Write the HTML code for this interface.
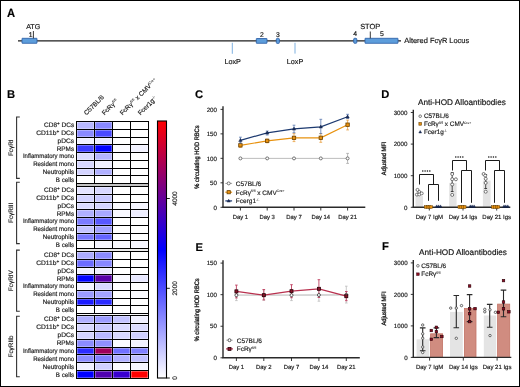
<!DOCTYPE html>
<html><head><meta charset="utf-8"><style>html,body{margin:0;padding:0;background:#fff;width:520px;height:387px;overflow:hidden}svg{display:block;will-change:transform}</style></head><body>
<svg width="520" height="387" viewBox="0 0 520 387" font-family='"Liberation Sans", sans-serif'>
<style>text{stroke:#1a1a1a;stroke-width:0.17px;text-rendering:geometricPrecision}</style>
<rect x="0" y="0" width="520" height="387" fill="#fff"/>
<text x="7.1" y="16.6" font-size="11.9" text-anchor="start" font-weight="bold" fill="#000" textLength="8.1" lengthAdjust="spacingAndGlyphs" >A</text>
<line x1="18" y1="40.9" x2="401" y2="40.9" stroke="#1e1e1e" stroke-width="1.35"/>
<rect x="22" y="38.3" width="15" height="5" rx="0.3" fill="#5d9ddb" stroke="#2d5fa6" stroke-width="0.85"/>
<rect x="256.3" y="38.5" width="10.7" height="4.8" rx="0.3" fill="#5d9ddb" stroke="#2d5fa6" stroke-width="0.85"/>
<rect x="276.3" y="38.4" width="3.1" height="5" rx="0.9" fill="#5d9ddb" stroke="#2d5fa6" stroke-width="0.85"/>
<rect x="353.7" y="38.3" width="3.1" height="5" rx="0.9" fill="#5d9ddb" stroke="#2d5fa6" stroke-width="0.85"/>
<rect x="365" y="38.3" width="33" height="5" rx="0.3" fill="#5d9ddb" stroke="#2d5fa6" stroke-width="0.85"/>
<line x1="33.4" y1="31" x2="33.4" y2="38.3" stroke="#222" stroke-width="0.9"/>
<line x1="370.3" y1="31.5" x2="370.3" y2="38.3" stroke="#222" stroke-width="0.9"/>
<text x="33.2" y="28.9" font-size="7.1" text-anchor="middle" font-weight="normal" fill="#111" >ATG</text>
<text x="30.7" y="36.6" font-size="6.8" text-anchor="middle" font-weight="normal" fill="#111" >1</text>
<text x="261.8" y="36.6" font-size="6.8" text-anchor="middle" font-weight="normal" fill="#111" >2</text>
<text x="277.8" y="36.6" font-size="6.8" text-anchor="middle" font-weight="normal" fill="#111" >3</text>
<text x="355.2" y="36.4" font-size="6.8" text-anchor="middle" font-weight="normal" fill="#111" >4</text>
<text x="382" y="36.4" font-size="6.8" text-anchor="middle" font-weight="normal" fill="#111" >5</text>
<text x="370.2" y="29.4" font-size="7.4" text-anchor="middle" font-weight="normal" fill="#111" >STOP</text>
<text x="404.3" y="43.1" font-size="7.45" text-anchor="start" font-weight="normal" fill="#111" >Altered Fc&#947;R Locus</text>
<line x1="232.3" y1="42.8" x2="232.3" y2="53.8" stroke="#6fa8dc" stroke-width="0.9"/>
<line x1="295" y1="42.8" x2="295" y2="53.6" stroke="#6fa8dc" stroke-width="0.9"/>
<text x="232.7" y="64.1" font-size="7.2" text-anchor="middle" font-weight="normal" fill="#111" >LoxP</text>
<text x="295" y="64.1" font-size="7.2" text-anchor="middle" font-weight="normal" fill="#111" >LoxP</text>
<text x="7" y="97.9" font-size="11.2" text-anchor="start" font-weight="bold" fill="#000" >B</text>
<rect x="77.3" y="122.30" width="16.4" height="6.40" fill="#b8b8ff"/>
<rect x="95.3" y="122.30" width="16.4" height="6.40" fill="#8888ff"/>
<text x="74.2" y="127.38" font-size="6.5" text-anchor="end" font-weight="normal" fill="#222" textLength="30.2" lengthAdjust="spacingAndGlyphs" >CD8<tspan font-size="4.6" dy="-2.2">+</tspan><tspan dy="2.2"> DCs</tspan></text>
<rect x="77.3" y="130.30" width="16.4" height="6.40" fill="#8a8aff"/>
<rect x="95.3" y="130.30" width="16.4" height="6.40" fill="#4a4aff"/>
<text x="74.2" y="135.12" font-size="6.5" text-anchor="end" font-weight="normal" fill="#222" textLength="38.0" lengthAdjust="spacingAndGlyphs" >CD11b<tspan font-size="4.6" dy="-2.2">+</tspan><tspan dy="2.2"> DCs</tspan></text>
<rect x="77.3" y="138.30" width="16.4" height="5.40" fill="#f0f0ff"/>
<rect x="95.3" y="138.30" width="16.4" height="5.40" fill="#ececff"/>
<text x="74.2" y="142.88" font-size="6.5" text-anchor="end" font-weight="normal" fill="#222" textLength="16.6" lengthAdjust="spacingAndGlyphs" >pDCs</text>
<rect x="77.3" y="145.30" width="16.4" height="6.40" fill="#3a3aff"/>
<rect x="95.3" y="145.30" width="16.4" height="6.40" fill="#0000ff"/>
<rect x="113.3" y="145.30" width="16.4" height="6.40" fill="#fafaff"/>
<rect x="131.3" y="145.30" width="16.4" height="6.40" fill="#f2f2ff"/>
<text x="74.2" y="150.62" font-size="6.5" text-anchor="end" font-weight="normal" fill="#222" textLength="17.5" lengthAdjust="spacingAndGlyphs" >RPMs</text>
<rect x="77.3" y="153.30" width="16.4" height="6.40" fill="#dcdcff"/>
<rect x="95.3" y="153.30" width="16.4" height="6.40" fill="#b4b4ff"/>
<text x="74.2" y="158.38" font-size="6.5" text-anchor="end" font-weight="normal" fill="#222" textLength="51.3" lengthAdjust="spacingAndGlyphs" >Inflammatory mono</text>
<rect x="77.3" y="161.30" width="16.4" height="6.40" fill="#d8d8ff"/>
<rect x="95.3" y="161.30" width="16.4" height="6.40" fill="#f0f0ff"/>
<text x="74.2" y="166.12" font-size="6.5" text-anchor="end" font-weight="normal" fill="#222" textLength="41.0" lengthAdjust="spacingAndGlyphs" >Resident mono</text>
<rect x="77.3" y="169.30" width="16.4" height="5.40" fill="#d4d4ff"/>
<rect x="95.3" y="169.30" width="16.4" height="5.40" fill="#b0b0ff"/>
<text x="74.2" y="173.88" font-size="6.5" text-anchor="end" font-weight="normal" fill="#222" textLength="31.4" lengthAdjust="spacingAndGlyphs" >Neutrophils</text>
<text x="74.2" y="181.62" font-size="6.5" text-anchor="end" font-weight="normal" fill="#222" textLength="18.4" lengthAdjust="spacingAndGlyphs" >B cells</text>
<line x1="76" y1="121.5" x2="149" y2="121.5" stroke="#000" stroke-width="1"/>
<line x1="76" y1="129.5" x2="149" y2="129.5" stroke="#000" stroke-width="1"/>
<line x1="76" y1="137.5" x2="149" y2="137.5" stroke="#000" stroke-width="1"/>
<line x1="76" y1="144.5" x2="149" y2="144.5" stroke="#000" stroke-width="1"/>
<line x1="76" y1="152.5" x2="149" y2="152.5" stroke="#000" stroke-width="1"/>
<line x1="76" y1="160.5" x2="149" y2="160.5" stroke="#000" stroke-width="1"/>
<line x1="76" y1="168.5" x2="149" y2="168.5" stroke="#000" stroke-width="1"/>
<line x1="76" y1="175.5" x2="149" y2="175.5" stroke="#000" stroke-width="1"/>
<line x1="76" y1="183.5" x2="149" y2="183.5" stroke="#000" stroke-width="1"/>
<line x1="76.5" y1="121.0" x2="76.5" y2="184.0" stroke="#000" stroke-width="1"/>
<line x1="94.5" y1="121.0" x2="94.5" y2="184.0" stroke="#000" stroke-width="1"/>
<line x1="112.5" y1="121.0" x2="112.5" y2="184.0" stroke="#000" stroke-width="1"/>
<line x1="130.5" y1="121.0" x2="130.5" y2="184.0" stroke="#000" stroke-width="1"/>
<line x1="148.5" y1="121.0" x2="148.5" y2="184.0" stroke="#000" stroke-width="1"/>
<rect x="77" y="184.0" width="71" height="2.0" fill="#c4c4c4"/>
<line x1="76.5" y1="183.5" x2="76.5" y2="186.5" stroke="#000" stroke-width="1"/>
<line x1="148.5" y1="183.5" x2="148.5" y2="186.5" stroke="#000" stroke-width="1"/>
<rect x="77.3" y="187.30" width="16.4" height="6.40" fill="#e4e4ff"/>
<rect x="95.3" y="187.30" width="16.4" height="6.40" fill="#d8d8ff"/>
<text x="74.2" y="192.38" font-size="6.5" text-anchor="end" font-weight="normal" fill="#222" textLength="30.2" lengthAdjust="spacingAndGlyphs" >CD8<tspan font-size="4.6" dy="-2.2">+</tspan><tspan dy="2.2"> DCs</tspan></text>
<rect x="77.3" y="195.30" width="16.4" height="6.40" fill="#d4d4ff"/>
<rect x="95.3" y="195.30" width="16.4" height="6.40" fill="#c8c8ff"/>
<text x="74.2" y="200.12" font-size="6.5" text-anchor="end" font-weight="normal" fill="#222" textLength="38.0" lengthAdjust="spacingAndGlyphs" >CD11b<tspan font-size="4.6" dy="-2.2">+</tspan><tspan dy="2.2"> DCs</tspan></text>
<rect x="77.3" y="203.30" width="16.4" height="5.40" fill="#dcdcff"/>
<rect x="95.3" y="203.30" width="16.4" height="5.40" fill="#d4d4ff"/>
<rect x="113.3" y="203.30" width="16.4" height="5.40" fill="#fafaff"/>
<rect x="131.3" y="203.30" width="16.4" height="5.40" fill="#f6f6ff"/>
<text x="74.2" y="207.88" font-size="6.5" text-anchor="end" font-weight="normal" fill="#222" textLength="16.6" lengthAdjust="spacingAndGlyphs" >pDCs</text>
<rect x="77.3" y="210.30" width="16.4" height="6.40" fill="#b0b0ff"/>
<rect x="95.3" y="210.30" width="16.4" height="6.40" fill="#a8a8ff"/>
<rect x="113.3" y="210.30" width="16.4" height="6.40" fill="#f8f8ff"/>
<rect x="131.3" y="210.30" width="16.4" height="6.40" fill="#eeeeff"/>
<text x="74.2" y="215.62" font-size="6.5" text-anchor="end" font-weight="normal" fill="#222" textLength="17.5" lengthAdjust="spacingAndGlyphs" >RPMs</text>
<rect x="77.3" y="218.30" width="16.4" height="6.40" fill="#7c7cff"/>
<rect x="95.3" y="218.30" width="16.4" height="6.40" fill="#5858ff"/>
<text x="74.2" y="223.38" font-size="6.5" text-anchor="end" font-weight="normal" fill="#222" textLength="51.3" lengthAdjust="spacingAndGlyphs" >Inflammatory mono</text>
<rect x="77.3" y="226.30" width="16.4" height="6.40" fill="#c4c4ff"/>
<rect x="95.3" y="226.30" width="16.4" height="6.40" fill="#a0a0ff"/>
<text x="74.2" y="231.12" font-size="6.5" text-anchor="end" font-weight="normal" fill="#222" textLength="41.0" lengthAdjust="spacingAndGlyphs" >Resident mono</text>
<rect x="77.3" y="234.30" width="16.4" height="5.40" fill="#7878ff"/>
<rect x="95.3" y="234.30" width="16.4" height="5.40" fill="#6464ff"/>
<text x="74.2" y="238.88" font-size="6.5" text-anchor="end" font-weight="normal" fill="#222" textLength="31.4" lengthAdjust="spacingAndGlyphs" >Neutrophils</text>
<rect x="95.3" y="241.30" width="16.4" height="6.40" fill="#f6f6ff"/>
<rect x="113.3" y="241.30" width="16.4" height="6.40" fill="#fafaff"/>
<rect x="131.3" y="241.30" width="16.4" height="6.40" fill="#f6f6ff"/>
<text x="74.2" y="246.62" font-size="6.5" text-anchor="end" font-weight="normal" fill="#222" textLength="18.4" lengthAdjust="spacingAndGlyphs" >B cells</text>
<line x1="76" y1="186.5" x2="149" y2="186.5" stroke="#000" stroke-width="1"/>
<line x1="76" y1="194.5" x2="149" y2="194.5" stroke="#000" stroke-width="1"/>
<line x1="76" y1="202.5" x2="149" y2="202.5" stroke="#000" stroke-width="1"/>
<line x1="76" y1="209.5" x2="149" y2="209.5" stroke="#000" stroke-width="1"/>
<line x1="76" y1="217.5" x2="149" y2="217.5" stroke="#000" stroke-width="1"/>
<line x1="76" y1="225.5" x2="149" y2="225.5" stroke="#000" stroke-width="1"/>
<line x1="76" y1="233.5" x2="149" y2="233.5" stroke="#000" stroke-width="1"/>
<line x1="76" y1="240.5" x2="149" y2="240.5" stroke="#000" stroke-width="1"/>
<line x1="76" y1="248.5" x2="149" y2="248.5" stroke="#000" stroke-width="1"/>
<line x1="76.5" y1="186.0" x2="76.5" y2="249.0" stroke="#000" stroke-width="1"/>
<line x1="94.5" y1="186.0" x2="94.5" y2="249.0" stroke="#000" stroke-width="1"/>
<line x1="112.5" y1="186.0" x2="112.5" y2="249.0" stroke="#000" stroke-width="1"/>
<line x1="130.5" y1="186.0" x2="130.5" y2="249.0" stroke="#000" stroke-width="1"/>
<line x1="148.5" y1="186.0" x2="148.5" y2="249.0" stroke="#000" stroke-width="1"/>
<rect x="77" y="249.0" width="71" height="2.0" fill="#ececec"/>
<line x1="76.5" y1="248.5" x2="76.5" y2="251.5" stroke="#000" stroke-width="1"/>
<line x1="148.5" y1="248.5" x2="148.5" y2="251.5" stroke="#000" stroke-width="1"/>
<rect x="77.3" y="252.30" width="16.4" height="6.40" fill="#acacff"/>
<rect x="95.3" y="252.30" width="16.4" height="6.40" fill="#8c8cff"/>
<text x="74.2" y="257.38" font-size="6.5" text-anchor="end" font-weight="normal" fill="#222" textLength="30.2" lengthAdjust="spacingAndGlyphs" >CD8<tspan font-size="4.6" dy="-2.2">+</tspan><tspan dy="2.2"> DCs</tspan></text>
<rect x="77.3" y="260.30" width="16.4" height="6.40" fill="#6c6cff"/>
<rect x="95.3" y="260.30" width="16.4" height="6.40" fill="#8888ff"/>
<text x="74.2" y="265.12" font-size="6.5" text-anchor="end" font-weight="normal" fill="#222" textLength="38.0" lengthAdjust="spacingAndGlyphs" >CD11b<tspan font-size="4.6" dy="-2.2">+</tspan><tspan dy="2.2"> DCs</tspan></text>
<rect x="77.3" y="268.30" width="16.4" height="5.40" fill="#f2f2ff"/>
<rect x="95.3" y="268.30" width="16.4" height="5.40" fill="#eeeeff"/>
<text x="74.2" y="272.88" font-size="6.5" text-anchor="end" font-weight="normal" fill="#222" textLength="16.6" lengthAdjust="spacingAndGlyphs" >pDCs</text>
<rect x="77.3" y="275.30" width="16.4" height="6.40" fill="#0404ff"/>
<rect x="95.3" y="275.30" width="16.4" height="6.40" fill="#5800a8"/>
<rect x="113.3" y="275.30" width="16.4" height="6.40" fill="#f8f8ff"/>
<rect x="131.3" y="275.30" width="16.4" height="6.40" fill="#e8e8ff"/>
<text x="74.2" y="280.62" font-size="6.5" text-anchor="end" font-weight="normal" fill="#222" textLength="17.5" lengthAdjust="spacingAndGlyphs" >RPMs</text>
<rect x="77.3" y="283.30" width="16.4" height="6.40" fill="#f4f4ff"/>
<rect x="95.3" y="283.30" width="16.4" height="6.40" fill="#d8d8ff"/>
<text x="74.2" y="288.38" font-size="6.5" text-anchor="end" font-weight="normal" fill="#222" textLength="51.3" lengthAdjust="spacingAndGlyphs" >Inflammatory mono</text>
<rect x="77.3" y="291.30" width="16.4" height="6.40" fill="#9c9cff"/>
<rect x="95.3" y="291.30" width="16.4" height="6.40" fill="#a4a4ff"/>
<rect x="131.3" y="291.30" width="16.4" height="6.40" fill="#fafaff"/>
<text x="74.2" y="296.12" font-size="6.5" text-anchor="end" font-weight="normal" fill="#222" textLength="41.0" lengthAdjust="spacingAndGlyphs" >Resident mono</text>
<rect x="77.3" y="299.30" width="16.4" height="5.40" fill="#1c1cff"/>
<rect x="95.3" y="299.30" width="16.4" height="5.40" fill="#2c2cff"/>
<text x="74.2" y="303.88" font-size="6.5" text-anchor="end" font-weight="normal" fill="#222" textLength="31.4" lengthAdjust="spacingAndGlyphs" >Neutrophils</text>
<text x="74.2" y="311.62" font-size="6.5" text-anchor="end" font-weight="normal" fill="#222" textLength="18.4" lengthAdjust="spacingAndGlyphs" >B cells</text>
<line x1="76" y1="251.5" x2="149" y2="251.5" stroke="#000" stroke-width="1"/>
<line x1="76" y1="259.5" x2="149" y2="259.5" stroke="#000" stroke-width="1"/>
<line x1="76" y1="267.5" x2="149" y2="267.5" stroke="#000" stroke-width="1"/>
<line x1="76" y1="274.5" x2="149" y2="274.5" stroke="#000" stroke-width="1"/>
<line x1="76" y1="282.5" x2="149" y2="282.5" stroke="#000" stroke-width="1"/>
<line x1="76" y1="290.5" x2="149" y2="290.5" stroke="#000" stroke-width="1"/>
<line x1="76" y1="298.5" x2="149" y2="298.5" stroke="#000" stroke-width="1"/>
<line x1="76" y1="305.5" x2="149" y2="305.5" stroke="#000" stroke-width="1"/>
<line x1="76" y1="313.5" x2="149" y2="313.5" stroke="#000" stroke-width="1"/>
<line x1="76.5" y1="251.0" x2="76.5" y2="314.0" stroke="#000" stroke-width="1"/>
<line x1="94.5" y1="251.0" x2="94.5" y2="314.0" stroke="#000" stroke-width="1"/>
<line x1="112.5" y1="251.0" x2="112.5" y2="314.0" stroke="#000" stroke-width="1"/>
<line x1="130.5" y1="251.0" x2="130.5" y2="314.0" stroke="#000" stroke-width="1"/>
<line x1="148.5" y1="251.0" x2="148.5" y2="314.0" stroke="#000" stroke-width="1"/>
<rect x="77" y="314.0" width="71" height="1.0" fill="#fafafa"/>
<line x1="76.5" y1="313.5" x2="76.5" y2="315.5" stroke="#000" stroke-width="1"/>
<line x1="148.5" y1="313.5" x2="148.5" y2="315.5" stroke="#000" stroke-width="1"/>
<rect x="77.3" y="316.30" width="16.4" height="6.40" fill="#b0b0ff"/>
<rect x="95.3" y="316.30" width="16.4" height="6.40" fill="#9c9cff"/>
<rect x="113.3" y="316.30" width="16.4" height="6.40" fill="#c4c4ff"/>
<rect x="131.3" y="316.30" width="16.4" height="6.40" fill="#f0f0ff"/>
<text x="74.2" y="321.44" font-size="6.5" text-anchor="end" font-weight="normal" fill="#222" textLength="30.2" lengthAdjust="spacingAndGlyphs" >CD8<tspan font-size="4.6" dy="-2.2">+</tspan><tspan dy="2.2"> DCs</tspan></text>
<rect x="77.3" y="324.30" width="16.4" height="6.40" fill="#d8d8ff"/>
<rect x="95.3" y="324.30" width="16.4" height="6.40" fill="#c8c8ff"/>
<rect x="113.3" y="324.30" width="16.4" height="6.40" fill="#dcdcff"/>
<rect x="131.3" y="324.30" width="16.4" height="6.40" fill="#dcdcff"/>
<text x="74.2" y="329.31" font-size="6.5" text-anchor="end" font-weight="normal" fill="#222" textLength="38.0" lengthAdjust="spacingAndGlyphs" >CD11b<tspan font-size="4.6" dy="-2.2">+</tspan><tspan dy="2.2"> DCs</tspan></text>
<rect x="77.3" y="332.30" width="16.4" height="6.40" fill="#d4d4ff"/>
<rect x="95.3" y="332.30" width="16.4" height="6.40" fill="#b8b8ff"/>
<rect x="113.3" y="332.30" width="16.4" height="6.40" fill="#d8d8ff"/>
<rect x="131.3" y="332.30" width="16.4" height="6.40" fill="#d0d0ff"/>
<text x="74.2" y="337.19" font-size="6.5" text-anchor="end" font-weight="normal" fill="#222" textLength="16.6" lengthAdjust="spacingAndGlyphs" >pDCs</text>
<rect x="77.3" y="340.30" width="16.4" height="6.40" fill="#8c8cff"/>
<rect x="95.3" y="340.30" width="16.4" height="6.40" fill="#9090ff"/>
<rect x="113.3" y="340.30" width="16.4" height="6.40" fill="#fafaff"/>
<rect x="131.3" y="340.30" width="16.4" height="6.40" fill="#f2f2ff"/>
<text x="74.2" y="345.06" font-size="6.5" text-anchor="end" font-weight="normal" fill="#222" textLength="17.5" lengthAdjust="spacingAndGlyphs" >RPMs</text>
<rect x="77.3" y="348.30" width="16.4" height="5.40" fill="#2c2cff"/>
<rect x="95.3" y="348.30" width="16.4" height="5.40" fill="#a0005c"/>
<rect x="113.3" y="348.30" width="16.4" height="5.40" fill="#7070ff"/>
<rect x="131.3" y="348.30" width="16.4" height="5.40" fill="#8080ff"/>
<text x="74.2" y="352.94" font-size="6.5" text-anchor="end" font-weight="normal" fill="#222" textLength="51.3" lengthAdjust="spacingAndGlyphs" >Inflammatory mono</text>
<rect x="77.3" y="355.30" width="16.4" height="6.40" fill="#8c8cff"/>
<rect x="95.3" y="355.30" width="16.4" height="6.40" fill="#8080ff"/>
<rect x="113.3" y="355.30" width="16.4" height="6.40" fill="#b0b0ff"/>
<rect x="131.3" y="355.30" width="16.4" height="6.40" fill="#c0c0ff"/>
<text x="74.2" y="360.81" font-size="6.5" text-anchor="end" font-weight="normal" fill="#222" textLength="41.0" lengthAdjust="spacingAndGlyphs" >Resident mono</text>
<rect x="77.3" y="363.30" width="16.4" height="6.40" fill="#f0f0ff"/>
<rect x="95.3" y="363.30" width="16.4" height="6.40" fill="#d0d0ff"/>
<rect x="113.3" y="363.30" width="16.4" height="6.40" fill="#fcfcff"/>
<rect x="131.3" y="363.30" width="16.4" height="6.40" fill="#f6f6ff"/>
<text x="74.2" y="368.69" font-size="6.5" text-anchor="end" font-weight="normal" fill="#222" textLength="31.4" lengthAdjust="spacingAndGlyphs" >Neutrophils</text>
<rect x="77.3" y="371.30" width="16.4" height="6.40" fill="#0000ff"/>
<rect x="95.3" y="371.30" width="16.4" height="6.40" fill="#5000b0"/>
<rect x="113.3" y="371.30" width="16.4" height="6.40" fill="#3a00d0"/>
<rect x="131.3" y="371.30" width="16.4" height="6.40" fill="#ff0000"/>
<text x="74.2" y="376.56" font-size="6.5" text-anchor="end" font-weight="normal" fill="#222" textLength="18.4" lengthAdjust="spacingAndGlyphs" >B cells</text>
<line x1="76" y1="315.5" x2="149" y2="315.5" stroke="#000" stroke-width="1"/>
<line x1="76" y1="323.5" x2="149" y2="323.5" stroke="#000" stroke-width="1"/>
<line x1="76" y1="331.5" x2="149" y2="331.5" stroke="#000" stroke-width="1"/>
<line x1="76" y1="339.5" x2="149" y2="339.5" stroke="#000" stroke-width="1"/>
<line x1="76" y1="347.5" x2="149" y2="347.5" stroke="#000" stroke-width="1"/>
<line x1="76" y1="354.5" x2="149" y2="354.5" stroke="#000" stroke-width="1"/>
<line x1="76" y1="362.5" x2="149" y2="362.5" stroke="#000" stroke-width="1"/>
<line x1="76" y1="370.5" x2="149" y2="370.5" stroke="#000" stroke-width="1"/>
<line x1="76" y1="378.5" x2="149" y2="378.5" stroke="#000" stroke-width="1"/>
<line x1="76.5" y1="315.0" x2="76.5" y2="379.0" stroke="#000" stroke-width="1"/>
<line x1="94.5" y1="315.0" x2="94.5" y2="379.0" stroke="#000" stroke-width="1"/>
<line x1="112.5" y1="315.0" x2="112.5" y2="379.0" stroke="#000" stroke-width="1"/>
<line x1="130.5" y1="315.0" x2="130.5" y2="379.0" stroke="#000" stroke-width="1"/>
<line x1="148.5" y1="315.0" x2="148.5" y2="379.0" stroke="#000" stroke-width="1"/>
<path d="M19.8 117 H16.6 V178.4 H19.8" fill="none" stroke="#333" stroke-width="1.1"/>
<text transform="translate(12.5 147.7) rotate(-90)" font-size="6.4" text-anchor="middle" fill="#222">Fc&#947;RI</text>
<path d="M19.8 182.2 H16.6 V243.6 H19.8" fill="none" stroke="#333" stroke-width="1.1"/>
<text transform="translate(12.5 212.89999999999998) rotate(-90)" font-size="6.4" text-anchor="middle" fill="#222">Fc&#947;RIII</text>
<path d="M19.8 250.1 H16.6 V311.3 H19.8" fill="none" stroke="#333" stroke-width="1.1"/>
<text transform="translate(12.5 280.7) rotate(-90)" font-size="6.4" text-anchor="middle" fill="#222">Fc&#947;RIV</text>
<path d="M19.8 316.3 H16.6 V376.7 H19.8" fill="none" stroke="#333" stroke-width="1.1"/>
<text transform="translate(12.5 346.5) rotate(-90)" font-size="6.4" text-anchor="middle" fill="#222">Fc&#947;RIIb</text>
<text transform="translate(86.5 115.6) rotate(-45)" font-size="6.5" fill="#222">C57BL/6</text>
<text transform="translate(104.5 115.6) rotate(-45)" font-size="6.5" fill="#222">FcR&#947;<tspan font-size="3.6" dy="-2.4" fill="#333" style="stroke-width:0.05px">fl/fl</tspan></text>
<text transform="translate(122.5 115.6) rotate(-45)" font-size="6.5" fill="#222">FcR&#947;<tspan font-size="3.6" dy="-2.4" fill="#333" style="stroke-width:0.05px">fl/fl</tspan><tspan dy="2.4"> x CMV</tspan><tspan font-size="3.6" dy="-2.4" fill="#333" style="stroke-width:0.05px">Cre+</tspan></text>
<text transform="translate(140.5 115.6) rotate(-45)" font-size="6.5" fill="#222">Fcer1g<tspan font-size="3.6" dy="-2.4" fill="#333" style="stroke-width:0.05px">-/-</tspan></text>
<defs><linearGradient id="cb" x1="0" y1="0" x2="0" y2="1"><stop offset="0" stop-color="#ff0000"/><stop offset="0.5" stop-color="#0000ff"/><stop offset="1" stop-color="#ffffff"/></linearGradient></defs>
<rect x="157.5" y="121" width="9" height="257" fill="url(#cb)" stroke="#000" stroke-width="1.1"/>
<line x1="166.5" y1="378" x2="169.8" y2="378" stroke="#000" stroke-width="0.9"/>
<text transform="translate(177.4 378) rotate(-90)" font-size="6.5" text-anchor="middle" fill="#222">0</text>
<line x1="166.5" y1="288.3" x2="169.8" y2="288.3" stroke="#000" stroke-width="0.9"/>
<text transform="translate(177.4 288.3) rotate(-90)" font-size="6.5" text-anchor="middle" fill="#222">2000</text>
<line x1="166.5" y1="198.5" x2="169.8" y2="198.5" stroke="#000" stroke-width="0.9"/>
<text transform="translate(177.4 198.5) rotate(-90)" font-size="6.5" text-anchor="middle" fill="#222">4000</text>
<text x="195" y="97.7" font-size="11.2" text-anchor="start" font-weight="bold" fill="#000" >C</text>
<line x1="223" y1="106.2" x2="223" y2="207.3" stroke="#2a2a2a" stroke-width="1.4"/>
<line x1="220.5" y1="109.38000000000001" x2="223" y2="109.38000000000001" stroke="#222" stroke-width="0.9"/>
<text x="217" y="111.58" font-size="6.2" text-anchor="end" font-weight="normal" fill="#222" >200</text>
<line x1="220.5" y1="133.86" x2="223" y2="133.86" stroke="#222" stroke-width="0.9"/>
<text x="217" y="136.06" font-size="6.2" text-anchor="end" font-weight="normal" fill="#222" >150</text>
<line x1="220.5" y1="158.34" x2="223" y2="158.34" stroke="#222" stroke-width="0.9"/>
<text x="217" y="160.54" font-size="6.2" text-anchor="end" font-weight="normal" fill="#222" >100</text>
<line x1="220.5" y1="182.82000000000002" x2="223" y2="182.82000000000002" stroke="#222" stroke-width="0.9"/>
<text x="217" y="185.02" font-size="6.2" text-anchor="end" font-weight="normal" fill="#222" >50</text>
<line x1="220.5" y1="207.3" x2="223" y2="207.3" stroke="#222" stroke-width="0.9"/>
<text x="217" y="209.5" font-size="6.2" text-anchor="end" font-weight="normal" fill="#222" >0</text>
<line x1="222.3" y1="207.3" x2="365.3" y2="207.3" stroke="#2a2a2a" stroke-width="1.4"/>
<line x1="240.4" y1="207.3" x2="240.4" y2="210.5" stroke="#222" stroke-width="0.9"/>
<text x="240.4" y="218.6" font-size="5.9" text-anchor="middle" font-weight="normal" fill="#222" >Day 1</text>
<line x1="267.2" y1="207.3" x2="267.2" y2="210.5" stroke="#222" stroke-width="0.9"/>
<text x="267.2" y="218.6" font-size="5.9" text-anchor="middle" font-weight="normal" fill="#222" >Day 3</text>
<line x1="294.0" y1="207.3" x2="294.0" y2="210.5" stroke="#222" stroke-width="0.9"/>
<text x="294.0" y="218.6" font-size="5.9" text-anchor="middle" font-weight="normal" fill="#222" >Day 7</text>
<line x1="320.8" y1="207.3" x2="320.8" y2="210.5" stroke="#222" stroke-width="0.9"/>
<text x="320.8" y="218.6" font-size="5.9" text-anchor="middle" font-weight="normal" fill="#222" >Day 14</text>
<line x1="347.6" y1="207.3" x2="347.6" y2="210.5" stroke="#222" stroke-width="0.9"/>
<text x="347.6" y="218.6" font-size="5.9" text-anchor="middle" font-weight="normal" fill="#222" >Day 21</text>
<text transform="translate(198.7 157.1) rotate(-90)" font-size="6.4" text-anchor="middle" fill="#1a1a1a" textLength="63.4" lengthAdjust="spacingAndGlyphs" style="stroke-width:0.3px;stroke:#111">% circulating HOD RBCs</text>
<polyline points="240.4,158.4 267.2,158.4 294.0,158.4 320.8,158.4 347.6,158.4" fill="none" stroke="#b5b5b5" stroke-width="0.9"/>
<path d="M347.6 153.4 V163.4 M346.20000000000005 153.4 H349.0 M346.20000000000005 163.4 H349.0" stroke="#aaa" stroke-width="0.8" fill="none"/>
<circle cx="240.4" cy="158.4" r="1.5" fill="#fff" stroke="#555" stroke-width="0.8"/>
<circle cx="267.2" cy="158.4" r="1.5" fill="#fff" stroke="#555" stroke-width="0.8"/>
<circle cx="294.0" cy="158.4" r="1.5" fill="#fff" stroke="#555" stroke-width="0.8"/>
<circle cx="320.8" cy="158.4" r="1.5" fill="#fff" stroke="#555" stroke-width="0.8"/>
<circle cx="347.6" cy="158.4" r="1.5" fill="#fff" stroke="#555" stroke-width="0.8"/>
<polyline points="240.4,145.3 267.2,140.9 294.0,137.9 320.8,137.8 347.6,124.7" fill="none" stroke="#e8920f" stroke-width="1.2"/>
<path d="M240.4 143.2 V147.4 M239.0 143.2 H241.8 M239.0 147.4 H241.8" stroke="#e8a040" stroke-width="0.8" fill="none"/>
<path d="M267.2 139 V142.8 M265.8 139 H268.59999999999997 M265.8 142.8 H268.59999999999997" stroke="#e8a040" stroke-width="0.8" fill="none"/>
<path d="M294.0 133.6 V141.6 M292.6 133.6 H295.4 M292.6 141.6 H295.4" stroke="#e8a040" stroke-width="0.8" fill="none"/>
<path d="M320.8 133.6 V142.3 M319.40000000000003 133.6 H322.2 M319.40000000000003 142.3 H322.2" stroke="#e8a040" stroke-width="0.8" fill="none"/>
<path d="M347.6 120.1 V129.9 M346.20000000000005 120.1 H349.0 M346.20000000000005 129.9 H349.0" stroke="#e8a040" stroke-width="0.8" fill="none"/>
<rect x="238.70000000000002" y="143.60000000000002" width="3.4" height="3.4" fill="#e8900e" stroke="#6b4200" stroke-width="0.8"/>
<rect x="265.5" y="139.20000000000002" width="3.4" height="3.4" fill="#e8900e" stroke="#6b4200" stroke-width="0.8"/>
<rect x="292.3" y="136.20000000000002" width="3.4" height="3.4" fill="#e8900e" stroke="#6b4200" stroke-width="0.8"/>
<rect x="319.1" y="136.10000000000002" width="3.4" height="3.4" fill="#e8900e" stroke="#6b4200" stroke-width="0.8"/>
<rect x="345.90000000000003" y="123.0" width="3.4" height="3.4" fill="#e8900e" stroke="#6b4200" stroke-width="0.8"/>
<polyline points="240.4,140.3 267.2,132.9 294.0,128.9 320.8,126.8 347.6,116.8" fill="none" stroke="#1d3a70" stroke-width="1.2"/>
<path d="M240.4 137.2 V143.0 M239.0 137.2 H241.8 M239.0 143.0 H241.8" stroke="#5a78b0" stroke-width="0.8" fill="none"/>
<path d="M267.2 131.0 V135.0 M265.8 131.0 H268.59999999999997 M265.8 135.0 H268.59999999999997" stroke="#5a78b0" stroke-width="0.8" fill="none"/>
<path d="M294.0 125.2 V132.7 M292.6 125.2 H295.4 M292.6 132.7 H295.4" stroke="#5a78b0" stroke-width="0.8" fill="none"/>
<path d="M320.8 119.3 V133.6 M319.40000000000003 119.3 H322.2 M319.40000000000003 133.6 H322.2" stroke="#5a78b0" stroke-width="0.8" fill="none"/>
<path d="M347.6 114.3 V118.5 M346.20000000000005 114.3 H349.0 M346.20000000000005 118.5 H349.0" stroke="#5a78b0" stroke-width="0.8" fill="none"/>
<path d="M240.4 138.464 L242.1 141.524 L238.70000000000002 141.524 Z" fill="#1b2f5e" stroke="#0d1a3a" stroke-width="0.4"/>
<path d="M267.2 131.064 L268.9 134.124 L265.5 134.124 Z" fill="#1b2f5e" stroke="#0d1a3a" stroke-width="0.4"/>
<path d="M294.0 127.06400000000001 L295.7 130.124 L292.3 130.124 Z" fill="#1b2f5e" stroke="#0d1a3a" stroke-width="0.4"/>
<path d="M320.8 124.964 L322.5 128.024 L319.1 128.024 Z" fill="#1b2f5e" stroke="#0d1a3a" stroke-width="0.4"/>
<path d="M347.6 114.964 L349.3 118.024 L345.90000000000003 118.024 Z" fill="#1b2f5e" stroke="#0d1a3a" stroke-width="0.4"/>
<line x1="225.3" y1="183.4" x2="232.1" y2="183.4" stroke="#999" stroke-width="0.9"/>
<circle cx="228.7" cy="183.4" r="1.5" fill="#fff" stroke="#555" stroke-width="0.8"/>
<line x1="225.3" y1="192.2" x2="232.1" y2="192.2" stroke="#e8920f" stroke-width="1.2"/>
<rect x="227.1" y="190.6" width="3.2" height="3.2" fill="#e8900e" stroke="#6b4200" stroke-width="0.8"/>
<line x1="225.3" y1="200.9" x2="232.1" y2="200.9" stroke="#1d3a70" stroke-width="1.2"/>
<path d="M228.7 199.172 L230.29999999999998 202.052 L227.1 202.052 Z" fill="#1b2f5e" stroke="#0d1a3a" stroke-width="0.4"/>
<text x="235.8" y="185.7" font-size="6.5" text-anchor="start" font-weight="normal" fill="#222" >C57BL/6</text>
<text x="235.8" y="194.5" font-size="6.5" text-anchor="start" font-weight="normal" fill="#222" >FcR&#947;<tspan font-size="3.5" dy="-2.4" fill="#333" style="stroke-width:0.05px">fl/fl</tspan><tspan dy="2.4"> x CMV</tspan><tspan font-size="3.5" dy="-2.4" fill="#333" style="stroke-width:0.05px">Cre+</tspan></text>
<text x="235.8" y="203.2" font-size="6.5" text-anchor="start" font-weight="normal" fill="#222" >Fcerg1<tspan font-size="3.5" dy="-2.4" fill="#333" style="stroke-width:0.05px">-/-</tspan></text>
<text x="381.2" y="97.7" font-size="11.2" text-anchor="start" font-weight="bold" fill="#000" >D</text>
<text x="418" y="104.5" font-size="8.2" text-anchor="start" font-weight="normal" fill="#111" >Anti-HOD Alloantibodies</text>
<line x1="413.3" y1="109.8" x2="413.3" y2="207.3" stroke="#2a2a2a" stroke-width="1.4"/>
<line x1="410.8" y1="112.5" x2="413.3" y2="112.5" stroke="#222" stroke-width="0.9"/>
<text x="407.4" y="114.7" font-size="6.2" text-anchor="end" font-weight="normal" fill="#222" >3000</text>
<line x1="410.8" y1="144.10000000000002" x2="413.3" y2="144.10000000000002" stroke="#222" stroke-width="0.9"/>
<text x="407.4" y="146.3" font-size="6.2" text-anchor="end" font-weight="normal" fill="#222" >2000</text>
<line x1="410.8" y1="175.70000000000002" x2="413.3" y2="175.70000000000002" stroke="#222" stroke-width="0.9"/>
<text x="407.4" y="177.9" font-size="6.2" text-anchor="end" font-weight="normal" fill="#222" >1000</text>
<line x1="410.8" y1="207.3" x2="413.3" y2="207.3" stroke="#222" stroke-width="0.9"/>
<text x="407.4" y="209.5" font-size="6.2" text-anchor="end" font-weight="normal" fill="#222" >0</text>
<text transform="translate(385.6 158.4) rotate(-90)" font-size="6.3" text-anchor="middle" fill="#1a1a1a" textLength="33.5" lengthAdjust="spacingAndGlyphs" style="stroke-width:0.3px;stroke:#111">Adjusted MFI</text>
<rect x="415.5" y="196.1" width="7.5" height="11.5" fill="#e3e3e3"/>
<rect x="449.2" y="182.9" width="7.4" height="24.7" fill="#e3e3e3"/>
<rect x="482.9" y="180.5" width="7.7" height="27.1" fill="#e3e3e3"/>
<line x1="412.6" y1="207.3" x2="510.3" y2="207.3" stroke="#2a2a2a" stroke-width="1.4"/>
<line x1="429.3" y1="207.3" x2="429.3" y2="210.5" stroke="#222" stroke-width="0.9"/>
<text x="429.3" y="219.0" font-size="6.0" text-anchor="middle" font-weight="normal" fill="#222" >Day 7 IgM</text>
<line x1="463.0" y1="207.3" x2="463.0" y2="210.5" stroke="#222" stroke-width="0.9"/>
<text x="463.0" y="219.0" font-size="6.0" text-anchor="middle" font-weight="normal" fill="#222" >Day 14 Igs</text>
<line x1="496.7" y1="207.3" x2="496.7" y2="210.5" stroke="#222" stroke-width="0.9"/>
<text x="496.7" y="219.0" font-size="6.0" text-anchor="middle" font-weight="normal" fill="#222" >Day 21 Igs</text>
<circle cx="417.5" cy="189.9" r="1.5" fill="#fff" stroke="#444" stroke-width="0.7"/>
<circle cx="419.3" cy="192.0" r="1.5" fill="#fff" stroke="#444" stroke-width="0.7"/>
<circle cx="416.9" cy="194.6" r="1.5" fill="#fff" stroke="#444" stroke-width="0.7"/>
<circle cx="419.3" cy="194.4" r="1.5" fill="#fff" stroke="#444" stroke-width="0.7"/>
<circle cx="421.7" cy="193.4" r="1.5" fill="#fff" stroke="#444" stroke-width="0.7"/>
<path d="M452.2 172.5 V191.5 M450.8 172.5 H453.59999999999997 M450.8 191.5 H453.59999999999997" stroke="#222" stroke-width="0.8" fill="none"/>
<circle cx="452.2" cy="174" r="1.5" fill="#fff" stroke="#444" stroke-width="0.7"/>
<circle cx="452.2" cy="179.2" r="1.5" fill="#fff" stroke="#444" stroke-width="0.7"/>
<circle cx="455.9" cy="179.3" r="1.5" fill="#fff" stroke="#444" stroke-width="0.7"/>
<circle cx="452.2" cy="184.5" r="1.5" fill="#fff" stroke="#444" stroke-width="0.7"/>
<circle cx="452.2" cy="194.9" r="1.5" fill="#fff" stroke="#444" stroke-width="0.7"/>
<path d="M485.7 174.5 V188.5 M484.3 174.5 H487.09999999999997 M484.3 188.5 H487.09999999999997" stroke="#222" stroke-width="0.8" fill="none"/>
<circle cx="483.6" cy="174" r="1.5" fill="#fff" stroke="#444" stroke-width="0.7"/>
<circle cx="485.2" cy="175.6" r="1.5" fill="#fff" stroke="#444" stroke-width="0.7"/>
<circle cx="485.7" cy="178.8" r="1.5" fill="#fff" stroke="#444" stroke-width="0.7"/>
<circle cx="485.7" cy="182.9" r="1.5" fill="#fff" stroke="#444" stroke-width="0.7"/>
<circle cx="485.7" cy="191.7" r="1.5" fill="#fff" stroke="#444" stroke-width="0.7"/>
<rect x="424.4" y="205.7" width="2.6" height="2.6" fill="#e8900e" stroke="#6b4200" stroke-width="0.5"/>
<rect x="426.2" y="205.7" width="2.6" height="2.6" fill="#e8900e" stroke="#6b4200" stroke-width="0.5"/>
<rect x="428.0" y="205.7" width="2.6" height="2.6" fill="#e8900e" stroke="#6b4200" stroke-width="0.5"/>
<rect x="429.79999999999995" y="205.7" width="2.6" height="2.6" fill="#e8900e" stroke="#6b4200" stroke-width="0.5"/>
<path d="M436.7 204.888 L438.09999999999997 207.40800000000002 L435.3 207.40800000000002 Z" fill="#1b2f5e" stroke="#0d1a3a" stroke-width="0.4"/>
<path d="M438.5 204.888 L439.9 207.40800000000002 L437.1 207.40800000000002 Z" fill="#1b2f5e" stroke="#0d1a3a" stroke-width="0.4"/>
<path d="M440.5 204.888 L441.9 207.40800000000002 L439.1 207.40800000000002 Z" fill="#1b2f5e" stroke="#0d1a3a" stroke-width="0.4"/>
<rect x="458.0" y="205.7" width="2.6" height="2.6" fill="#e8900e" stroke="#6b4200" stroke-width="0.5"/>
<rect x="459.8" y="205.7" width="2.6" height="2.6" fill="#e8900e" stroke="#6b4200" stroke-width="0.5"/>
<rect x="461.6" y="205.7" width="2.6" height="2.6" fill="#e8900e" stroke="#6b4200" stroke-width="0.5"/>
<rect x="463.4" y="205.7" width="2.6" height="2.6" fill="#e8900e" stroke="#6b4200" stroke-width="0.5"/>
<path d="M470.3 204.888 L471.7 207.40800000000002 L468.90000000000003 207.40800000000002 Z" fill="#1b2f5e" stroke="#0d1a3a" stroke-width="0.4"/>
<path d="M472.1 204.888 L473.5 207.40800000000002 L470.70000000000005 207.40800000000002 Z" fill="#1b2f5e" stroke="#0d1a3a" stroke-width="0.4"/>
<path d="M474.1 204.888 L475.5 207.40800000000002 L472.70000000000005 207.40800000000002 Z" fill="#1b2f5e" stroke="#0d1a3a" stroke-width="0.4"/>
<rect x="491.7" y="205.7" width="2.6" height="2.6" fill="#e8900e" stroke="#6b4200" stroke-width="0.5"/>
<rect x="493.5" y="205.7" width="2.6" height="2.6" fill="#e8900e" stroke="#6b4200" stroke-width="0.5"/>
<rect x="495.3" y="205.7" width="2.6" height="2.6" fill="#e8900e" stroke="#6b4200" stroke-width="0.5"/>
<rect x="497.09999999999997" y="205.7" width="2.6" height="2.6" fill="#e8900e" stroke="#6b4200" stroke-width="0.5"/>
<path d="M504.0 204.888 L505.4 207.40800000000002 L502.6 207.40800000000002 Z" fill="#1b2f5e" stroke="#0d1a3a" stroke-width="0.4"/>
<path d="M505.8 204.888 L507.2 207.40800000000002 L504.40000000000003 207.40800000000002 Z" fill="#1b2f5e" stroke="#0d1a3a" stroke-width="0.4"/>
<path d="M507.8 204.888 L509.2 207.40800000000002 L506.40000000000003 207.40800000000002 Z" fill="#1b2f5e" stroke="#0d1a3a" stroke-width="0.4"/>
<path d="M419.5 184.5 V174.5 H433.5 V184.5" fill="none" stroke="#1a1a1a" stroke-width="1"/>
<path d="M428.5 200.8 V184.5 H438.5 V200.8" fill="none" stroke="#1a1a1a" stroke-width="1"/>
<rect x="422.10" y="170.1" width="1.3" height="1.8" fill="#555"/>
<rect x="424.45" y="170.1" width="1.3" height="1.8" fill="#555"/>
<rect x="426.80" y="170.1" width="1.3" height="1.8" fill="#555"/>
<rect x="429.15" y="170.1" width="1.3" height="1.8" fill="#555"/>
<path d="M452.5 170.5 V160.5 H466.5 V170.5" fill="none" stroke="#1a1a1a" stroke-width="1"/>
<path d="M461.5 202.8 V170.5 H471.5 V202.8" fill="none" stroke="#1a1a1a" stroke-width="1"/>
<rect x="455.10" y="156.1" width="1.3" height="1.8" fill="#555"/>
<rect x="457.45" y="156.1" width="1.3" height="1.8" fill="#555"/>
<rect x="459.80" y="156.1" width="1.3" height="1.8" fill="#555"/>
<rect x="462.15" y="156.1" width="1.3" height="1.8" fill="#555"/>
<path d="M485.5 170.5 V160.5 H499.5 V170.5" fill="none" stroke="#1a1a1a" stroke-width="1"/>
<path d="M494.5 202.8 V170.5 H504.5 V202.8" fill="none" stroke="#1a1a1a" stroke-width="1"/>
<rect x="488.10" y="156.1" width="1.3" height="1.8" fill="#555"/>
<rect x="490.45" y="156.1" width="1.3" height="1.8" fill="#555"/>
<rect x="492.80" y="156.1" width="1.3" height="1.8" fill="#555"/>
<rect x="495.15" y="156.1" width="1.3" height="1.8" fill="#555"/>
<circle cx="420.2" cy="116.2" r="1.3" fill="#fff" stroke="#444" stroke-width="0.7"/>
<rect x="418.9" y="122.60000000000001" width="2.6" height="2.6" fill="#e8900e" stroke="#6b4200" stroke-width="0.6"/>
<path d="M420.2 130.488 L421.59999999999997 133.008 L418.8 133.008 Z" fill="#1b2f5e" stroke="#0d1a3a" stroke-width="0.4"/>
<text x="423.9" y="118.3" font-size="6.4" text-anchor="start" font-weight="normal" fill="#222" >C57BL/6</text>
<text x="423.9" y="126.1" font-size="6.4" text-anchor="start" font-weight="normal" fill="#222" >FcR&#947;<tspan font-size="3.3" dy="-2.4" fill="#333" style="stroke-width:0.05px">fl/fl</tspan><tspan dy="2.4"> x CMV</tspan><tspan font-size="3.3" dy="-2.4" fill="#333" style="stroke-width:0.05px">Cre+</tspan></text>
<text x="423.9" y="134.3" font-size="6.4" text-anchor="start" font-weight="normal" fill="#222" >Fcer1g<tspan font-size="3.3" dy="-2.4" fill="#333" style="stroke-width:0.05px">-/-</tspan></text>
<text x="195.4" y="250.5" font-size="11.2" text-anchor="start" font-weight="bold" fill="#000" >E</text>
<line x1="223" y1="260.2" x2="223" y2="357.8" stroke="#2a2a2a" stroke-width="1.4"/>
<line x1="220.5" y1="263.105" x2="223" y2="263.105" stroke="#222" stroke-width="0.9"/>
<text x="217" y="265.31" font-size="6.2" text-anchor="end" font-weight="normal" fill="#222" >150</text>
<line x1="220.5" y1="294.67" x2="223" y2="294.67" stroke="#222" stroke-width="0.9"/>
<text x="217" y="296.87" font-size="6.2" text-anchor="end" font-weight="normal" fill="#222" >100</text>
<line x1="220.5" y1="326.235" x2="223" y2="326.235" stroke="#222" stroke-width="0.9"/>
<text x="217" y="328.44" font-size="6.2" text-anchor="end" font-weight="normal" fill="#222" >50</text>
<line x1="220.5" y1="357.8" x2="223" y2="357.8" stroke="#222" stroke-width="0.9"/>
<text x="217" y="360.0" font-size="6.2" text-anchor="end" font-weight="normal" fill="#222" >0</text>
<line x1="222.3" y1="357.8" x2="359.8" y2="357.8" stroke="#2a2a2a" stroke-width="1.4"/>
<line x1="236.4" y1="357.8" x2="236.4" y2="361.0" stroke="#222" stroke-width="0.9"/>
<text x="236.4" y="368.6" font-size="5.9" text-anchor="middle" font-weight="normal" fill="#222" >Day 1</text>
<line x1="263.8" y1="357.8" x2="263.8" y2="361.0" stroke="#222" stroke-width="0.9"/>
<text x="263.8" y="368.6" font-size="5.9" text-anchor="middle" font-weight="normal" fill="#222" >Day 2</text>
<line x1="291.5" y1="357.8" x2="291.5" y2="361.0" stroke="#222" stroke-width="0.9"/>
<text x="291.5" y="368.6" font-size="5.9" text-anchor="middle" font-weight="normal" fill="#222" >Day 7</text>
<line x1="318.9" y1="357.8" x2="318.9" y2="361.0" stroke="#222" stroke-width="0.9"/>
<text x="318.9" y="368.6" font-size="5.9" text-anchor="middle" font-weight="normal" fill="#222" >Day 14</text>
<line x1="346.3" y1="357.8" x2="346.3" y2="361.0" stroke="#222" stroke-width="0.9"/>
<text x="346.3" y="368.6" font-size="5.9" text-anchor="middle" font-weight="normal" fill="#222" >Day 21</text>
<text transform="translate(198.7 309.8) rotate(-90)" font-size="6.4" text-anchor="middle" fill="#1a1a1a" textLength="63.0" lengthAdjust="spacingAndGlyphs" style="stroke-width:0.3px;stroke:#111">% circulating HOD RBCs</text>
<polyline points="236.4,295.2 263.8,295.2 291.5,295.2 318.9,295.0 346.3,294.9" fill="none" stroke="#d6d6d6" stroke-width="1.8"/>
<path d="M236.4 289.5 V300.6 M235.1 289.5 H237.70000000000002 M235.1 300.6 H237.70000000000002" stroke="#bbb" stroke-width="0.8" fill="none"/>
<path d="M263.8 290 V300.2 M262.5 290 H265.1 M262.5 300.2 H265.1" stroke="#bbb" stroke-width="0.8" fill="none"/>
<path d="M291.5 289.7 V300.6 M290.2 289.7 H292.8 M290.2 300.6 H292.8" stroke="#bbb" stroke-width="0.8" fill="none"/>
<path d="M318.9 289 V301.2 M317.59999999999997 289 H320.2 M317.59999999999997 301.2 H320.2" stroke="#bbb" stroke-width="0.8" fill="none"/>
<path d="M346.3 286.2 V303 M345.0 286.2 H347.6 M345.0 303 H347.6" stroke="#bbb" stroke-width="0.8" fill="none"/>
<path d="M236.4 285.1 V297.9 M235.1 285.1 H237.70000000000002 M235.1 297.9 H237.70000000000002" stroke="#c04060" stroke-width="0.9" fill="none"/>
<path d="M263.8 289.5 V299.9 M262.5 289.5 H265.1 M262.5 299.9 H265.1" stroke="#c04060" stroke-width="0.9" fill="none"/>
<path d="M291.5 284.7 V297.7 M290.2 284.7 H292.8 M290.2 297.7 H292.8" stroke="#c04060" stroke-width="0.9" fill="none"/>
<path d="M318.9 279.7 V297.5 M317.59999999999997 279.7 H320.2 M317.59999999999997 297.5 H320.2" stroke="#c04060" stroke-width="0.9" fill="none"/>
<path d="M346.3 291.5 V300.7 M345.0 291.5 H347.6 M345.0 300.7 H347.6" stroke="#c04060" stroke-width="0.9" fill="none"/>
<polyline points="236.4,291.4 263.8,295.2 291.5,291.2 318.9,288.8 346.3,296.2" fill="none" stroke="#b8304e" stroke-width="1.3"/>
<circle cx="236.4" cy="295.2" r="1.5" fill="#fff" stroke="#333" stroke-width="0.8"/>
<circle cx="263.8" cy="295.2" r="1.5" fill="#fff" stroke="#333" stroke-width="0.8"/>
<circle cx="291.5" cy="295.2" r="1.5" fill="#fff" stroke="#333" stroke-width="0.8"/>
<circle cx="318.9" cy="295.0" r="1.5" fill="#fff" stroke="#333" stroke-width="0.8"/>
<circle cx="346.3" cy="294.9" r="1.5" fill="#fff" stroke="#333" stroke-width="0.8"/>
<rect x="234.9" y="289.9" width="3.0" height="3.0" fill="#8a1428" stroke="#2a0008" stroke-width="0.8"/>
<rect x="262.3" y="293.7" width="3.0" height="3.0" fill="#8a1428" stroke="#2a0008" stroke-width="0.8"/>
<rect x="290.0" y="289.7" width="3.0" height="3.0" fill="#8a1428" stroke="#2a0008" stroke-width="0.8"/>
<rect x="317.4" y="287.3" width="3.0" height="3.0" fill="#8a1428" stroke="#2a0008" stroke-width="0.8"/>
<rect x="344.8" y="294.7" width="3.0" height="3.0" fill="#8a1428" stroke="#2a0008" stroke-width="0.8"/>
<line x1="226" y1="340.2" x2="233" y2="340.2" stroke="#bbb" stroke-width="0.9"/>
<circle cx="229.5" cy="340.2" r="1.5" fill="#fff" stroke="#333" stroke-width="0.8"/>
<line x1="226" y1="348.9" x2="233" y2="348.9" stroke="#b8304e" stroke-width="1.2"/>
<rect x="228.0" y="347.4" width="3.0" height="3.0" fill="#8a1428" stroke="#2a0008" stroke-width="0.8"/>
<text x="236.7" y="342.5" font-size="6.5" text-anchor="start" font-weight="normal" fill="#222" >C57BL/6</text>
<text x="236.7" y="351.2" font-size="6.5" text-anchor="start" font-weight="normal" fill="#222" >FcR&#947;<tspan font-size="3.5" dy="-2.4" fill="#333" style="stroke-width:0.05px">fl/fl</tspan></text>
<text x="382.1" y="249.8" font-size="11.2" text-anchor="start" font-weight="bold" fill="#000" >F</text>
<text x="419.1" y="255.1" font-size="8.2" text-anchor="start" font-weight="normal" fill="#111" >Anti-HOD Alloantibodies</text>
<line x1="413.3" y1="259.9" x2="413.3" y2="357.4" stroke="#2a2a2a" stroke-width="1.4"/>
<line x1="410.8" y1="262.9" x2="413.3" y2="262.9" stroke="#222" stroke-width="0.9"/>
<text x="407.6" y="265.1" font-size="6.2" text-anchor="end" font-weight="normal" fill="#222" >3000</text>
<line x1="410.8" y1="294.4" x2="413.3" y2="294.4" stroke="#222" stroke-width="0.9"/>
<text x="407.6" y="296.6" font-size="6.2" text-anchor="end" font-weight="normal" fill="#222" >2000</text>
<line x1="410.8" y1="325.9" x2="413.3" y2="325.9" stroke="#222" stroke-width="0.9"/>
<text x="407.6" y="328.1" font-size="6.2" text-anchor="end" font-weight="normal" fill="#222" >1000</text>
<line x1="410.8" y1="357.4" x2="413.3" y2="357.4" stroke="#222" stroke-width="0.9"/>
<text x="407.6" y="359.6" font-size="6.2" text-anchor="end" font-weight="normal" fill="#222" >0</text>
<text transform="translate(385.6 308.5) rotate(-90)" font-size="6.3" text-anchor="middle" fill="#1a1a1a" textLength="34" lengthAdjust="spacingAndGlyphs" style="stroke-width:0.3px;stroke:#111">Adjusted MFI</text>
<rect x="416.6" y="339.3" width="12.699999999999989" height="18.099999999999966" fill="#e4e4e4"/>
<rect x="430.59999999999997" y="333.79999999999995" width="12.00000000000001" height="23.6" fill="#d08c80" stroke="#c27466" stroke-width="0.8"/>
<rect x="450" y="311.9" width="12.800000000000011" height="45.5" fill="#e4e4e4"/>
<rect x="464.4" y="308.5" width="11.599999999999977" height="48.899999999999956" fill="#d08c80" stroke="#c27466" stroke-width="0.8"/>
<rect x="483.8" y="315.5" width="12.399999999999977" height="41.89999999999998" fill="#e4e4e4"/>
<rect x="497.59999999999997" y="304.09999999999997" width="12.100000000000033" height="53.29999999999999" fill="#d08c80" stroke="#c27466" stroke-width="0.8"/>
<line x1="412.6" y1="357.4" x2="511.3" y2="357.4" stroke="#2a2a2a" stroke-width="1.4"/>
<line x1="429.6" y1="357.4" x2="429.6" y2="360.59999999999997" stroke="#222" stroke-width="0.9"/>
<text x="429.6" y="368.6" font-size="6.0" text-anchor="middle" font-weight="normal" fill="#222" >Day 7 IgM</text>
<line x1="463.3" y1="357.4" x2="463.3" y2="360.59999999999997" stroke="#222" stroke-width="0.9"/>
<text x="463.3" y="368.6" font-size="6.0" text-anchor="middle" font-weight="normal" fill="#222" >Day 14 Igs</text>
<line x1="497.1" y1="357.4" x2="497.1" y2="360.59999999999997" stroke="#222" stroke-width="0.9"/>
<text x="497.1" y="368.6" font-size="6.0" text-anchor="middle" font-weight="normal" fill="#222" >Day 21 Igs</text>
<path d="M422.7 327.9 V350.8 M419.9 327.9 H425.5 M419.9 350.8 H425.5" stroke="#2a2a2a" stroke-width="1.1" fill="none"/>
<circle cx="422.7" cy="325" r="1.2" fill="#fff" stroke="#3a3a3a" stroke-width="0.75"/>
<circle cx="422.7" cy="333.8" r="1.2" fill="#fff" stroke="#3a3a3a" stroke-width="0.75"/>
<circle cx="422.7" cy="338.2" r="1.2" fill="#fff" stroke="#3a3a3a" stroke-width="0.75"/>
<circle cx="422.7" cy="347" r="1.2" fill="#fff" stroke="#3a3a3a" stroke-width="0.75"/>
<circle cx="422.7" cy="352.5" r="1.2" fill="#fff" stroke="#3a3a3a" stroke-width="0.75"/>
<path d="M436.4 327.9 V337.6 M433.59999999999997 327.9 H439.2 M433.59999999999997 337.6 H439.2" stroke="#2a2a2a" stroke-width="1.1" fill="none"/>
<rect x="430.05" y="329.25" width="2.5" height="2.5" fill="#8a0c22" stroke="#2a0008" stroke-width="0.6"/>
<rect x="435.15" y="326.05" width="2.5" height="2.5" fill="#8a0c22" stroke="#2a0008" stroke-width="0.6"/>
<rect x="435.15" y="330.35" width="2.5" height="2.5" fill="#8a0c22" stroke="#2a0008" stroke-width="0.6"/>
<rect x="440.65" y="335.25" width="2.5" height="2.5" fill="#8a0c22" stroke="#2a0008" stroke-width="0.6"/>
<rect x="430.05" y="338.05" width="2.5" height="2.5" fill="#8a0c22" stroke="#2a0008" stroke-width="0.6"/>
<path d="M456.3 295.5 V327.7 M453.5 295.5 H459.1 M453.5 327.7 H459.1" stroke="#2a2a2a" stroke-width="1.1" fill="none"/>
<circle cx="450.7" cy="308.1" r="1.2" fill="#fff" stroke="#3a3a3a" stroke-width="0.75"/>
<circle cx="456.3" cy="308.1" r="1.2" fill="#fff" stroke="#3a3a3a" stroke-width="0.75"/>
<circle cx="461.5" cy="305.6" r="1.2" fill="#fff" stroke="#3a3a3a" stroke-width="0.75"/>
<circle cx="456.3" cy="338.3" r="1.2" fill="#fff" stroke="#3a3a3a" stroke-width="0.75"/>
<path d="M469.6 294.6 V321.6 M466.8 294.6 H472.40000000000003 M466.8 321.6 H472.40000000000003" stroke="#2a2a2a" stroke-width="1.1" fill="none"/>
<rect x="468.35" y="284.75" width="2.5" height="2.5" fill="#8a0c22" stroke="#2a0008" stroke-width="0.6"/>
<rect x="468.35" y="307.55" width="2.5" height="2.5" fill="#8a0c22" stroke="#2a0008" stroke-width="0.6"/>
<rect x="473.75" y="307.35" width="2.5" height="2.5" fill="#8a0c22" stroke="#2a0008" stroke-width="0.6"/>
<rect x="468.35" y="312.45" width="2.5" height="2.5" fill="#8a0c22" stroke="#2a0008" stroke-width="0.6"/>
<rect x="468.35" y="320.35" width="2.5" height="2.5" fill="#8a0c22" stroke="#2a0008" stroke-width="0.6"/>
<path d="M489.7 304.4 V327.2 M486.9 304.4 H492.5 M486.9 327.2 H492.5" stroke="#2a2a2a" stroke-width="1.1" fill="none"/>
<circle cx="484.8" cy="309.3" r="1.2" fill="#fff" stroke="#3a3a3a" stroke-width="0.75"/>
<circle cx="484.8" cy="311.8" r="1.2" fill="#fff" stroke="#3a3a3a" stroke-width="0.75"/>
<circle cx="490" cy="309.8" r="1.2" fill="#fff" stroke="#3a3a3a" stroke-width="0.75"/>
<circle cx="495.4" cy="312.3" r="1.2" fill="#fff" stroke="#3a3a3a" stroke-width="0.75"/>
<circle cx="490" cy="335.6" r="1.2" fill="#fff" stroke="#3a3a3a" stroke-width="0.75"/>
<path d="M503.5 290.1 V316.7 M500.7 290.1 H506.3 M500.7 316.7 H506.3" stroke="#2a2a2a" stroke-width="1.1" fill="none"/>
<rect x="502.25" y="279.35" width="2.5" height="2.5" fill="#8a0c22" stroke="#2a0008" stroke-width="0.6"/>
<rect x="502.25" y="300.75" width="2.5" height="2.5" fill="#8a0c22" stroke="#2a0008" stroke-width="0.6"/>
<rect x="502.25" y="307.55" width="2.5" height="2.5" fill="#8a0c22" stroke="#2a0008" stroke-width="0.6"/>
<rect x="497.05" y="311.05" width="2.5" height="2.5" fill="#8a0c22" stroke="#2a0008" stroke-width="0.6"/>
<rect x="507.65" y="310.55" width="2.5" height="2.5" fill="#8a0c22" stroke="#2a0008" stroke-width="0.6"/>
<circle cx="417.9" cy="265.8" r="1.3" fill="#fff" stroke="#444" stroke-width="0.7"/>
<rect x="416.59999999999997" y="272.9" width="2.6" height="2.6" fill="#8a1020" stroke="#3a0010" stroke-width="0.5"/>
<text x="421.3" y="268.0" font-size="6.4" text-anchor="start" font-weight="normal" fill="#222" >C57BL/6</text>
<text x="421.3" y="276.4" font-size="6.4" text-anchor="start" font-weight="normal" fill="#222" >FcR&#947;<tspan font-size="3.3" dy="-2.4" fill="#333" style="stroke-width:0.05px">fl/fl</tspan></text>
<rect x="0.5" y="0.5" width="519" height="386" fill="none" stroke="#000" stroke-width="1"/>
</svg>
</body></html>
